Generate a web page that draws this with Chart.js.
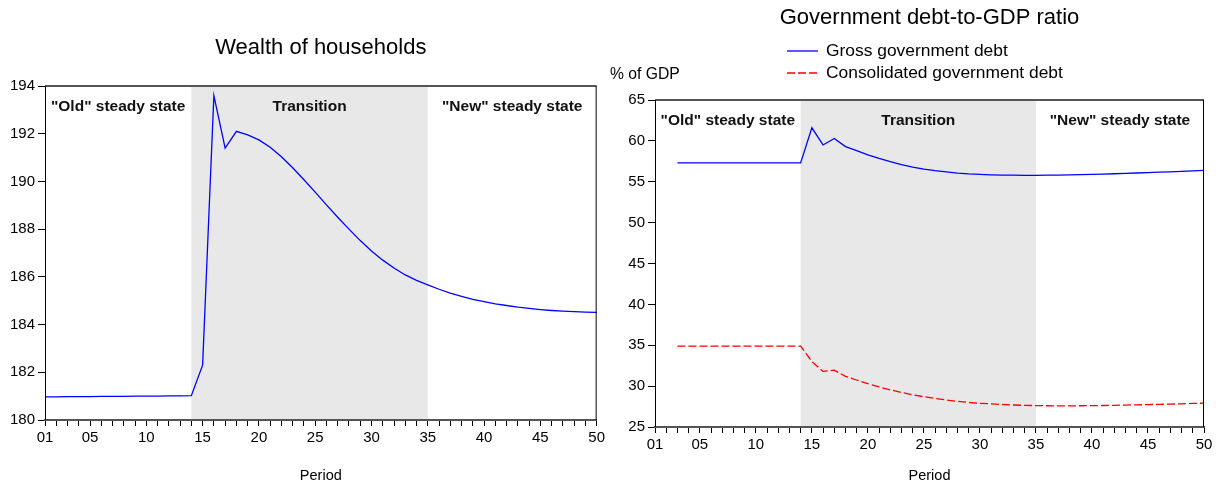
<!DOCTYPE html>
<html>
<head>
<meta charset="utf-8">
<script src="https://cdn.jsdelivr.net/npm/chart.js@4.4.0/dist/chart.umd.min.js"></script>
<style>
    html, body { margin: 0; padding: 0; background: #fff; }
    #wrap { position: relative; width: 1216px; height: 485px; }
    .box { position: absolute; top: 0; width: 608px; height: 485px; }
</style>
</head>
<body>
<div id="wrap">
    <div class="box" style="left:0"><canvas id="wealthChart"></canvas></div>
    <div class="box" style="left:608px"><canvas id="debtChart"></canvas></div>
</div>
<script>
// ============================================
// Data
// ============================================
const periods = [
    "01", "02", "03", "04", "05", "06", "07", "08", "09", "10",
    "11", "12", "13", "14", "15", "16", "17", "18", "19", "20",
    "21", "22", "23", "24", "25", "26", "27", "28", "29", "30",
    "31", "32", "33", "34", "35", "36", "37", "38", "39", "40",
    "41", "42", "43", "44", "45", "46", "47", "48", "49", "50",
];
const shownTicks = ["01", "05", "10", "15", "20", "25", "30", "35", "40", "45", "50"];

// shaded transition window (period labels) and the three region names
const regionBounds = ["14", "35"];
const regionNames = ['"Old" steady state', "Transition", '"New" steady state'];

const wealth = [
    180.97, 180.97, 180.98, 180.98, 180.98, 180.99, 180.99, 180.99, 181.0, 181.0,
    181.0, 181.01, 181.01, 181.02, 182.3, 193.6, 191.4, 192.1, 191.95, 191.74,
    191.43, 191.03, 190.57, 190.07, 189.55, 189.02, 188.5, 188.0, 187.52, 187.08,
    186.7, 186.37, 186.08, 185.85, 185.66, 185.48, 185.32, 185.18, 185.06, 184.96,
    184.87, 184.8, 184.73, 184.68, 184.63, 184.59, 184.56, 184.54, 184.52, 184.51,
];

const grossDebt = [
    null, null, 57.3, 57.3, 57.3, 57.3, 57.3, 57.3, 57.3, 57.3,
    57.3, 57.3, 57.3, 57.3, 61.6, 59.5, 60.3, 59.3, 58.8, 58.3,
    57.85, 57.45, 57.1, 56.8, 56.55, 56.35, 56.2, 56.06, 55.96, 55.9,
    55.85, 55.82, 55.8, 55.79, 55.79, 55.8, 55.82, 55.84, 55.87, 55.9,
    55.94, 55.98, 56.02, 56.07, 56.12, 56.17, 56.22, 56.27, 56.33, 56.39,
];

const consolidatedDebt = [
    null, null, 34.9, 34.9, 34.9, 34.9, 34.9, 34.9, 34.9, 34.9,
    34.9, 34.9, 34.9, 34.9, 33.0, 31.8, 31.95, 31.2, 30.75, 30.3,
    29.9, 29.55, 29.22, 28.94, 28.7, 28.5, 28.3, 28.13, 28.0, 27.9,
    27.83, 27.75, 27.69, 27.65, 27.62, 27.6, 27.59, 27.59, 27.6, 27.61,
    27.63, 27.65, 27.68, 27.71, 27.74, 27.77, 27.8, 27.84, 27.88, 27.92,
];

// ============================================
// Shared styling
// ============================================
const FONT = "'Liberation Sans', Arial, sans-serif";
Chart.defaults.font.family = FONT;
Chart.defaults.color = "#000";

// shading + region labels below the lines, frame on top
const regionPlugin = {
    id: "regions",
    beforeDatasetsDraw(chart) {
        const { ctx, chartArea: a, scales: { x } } = chart;
        const x0 = x.getPixelForValue(periods.indexOf(regionBounds[0]));
        const x1 = x.getPixelForValue(periods.indexOf(regionBounds[1]));
        ctx.save();
        ctx.fillStyle = "#e8e8e8";
        ctx.fillRect(x0, a.top, x1 - x0, a.bottom - a.top);

        ctx.fillStyle = "#111";
        ctx.font = "bold 15.5px " + FONT;
        ctx.textAlign = "center";
        ctx.textBaseline = "middle";
        const centers = [(a.left + x0) / 2, (x0 + x1) / 2, (x1 + a.right) / 2];
        regionNames.forEach((name, i) => ctx.fillText(name, centers[i], a.top + 21));
        ctx.restore();
    },
    afterDraw(chart) {
        const { ctx, chartArea: a } = chart;
        ctx.save();
        // top and bottom lines are greyish and heavier, sides black
        ctx.strokeStyle = "#555";
        ctx.lineWidth = 2;
        ctx.beginPath();
        ctx.moveTo(a.left, a.top);
        ctx.lineTo(a.right, a.top);
        ctx.moveTo(a.left, a.bottom);
        ctx.lineTo(a.right, a.bottom);
        ctx.stroke();
        ctx.strokeStyle = "#000";
        ctx.lineWidth = 1;
        ctx.beginPath();
        ctx.moveTo(a.left + 0.5, a.top);
        ctx.lineTo(a.left + 0.5, a.bottom);
        ctx.moveTo(a.right - 0.5, a.top);
        ctx.lineTo(a.right - 0.5, a.bottom);
        ctx.stroke();
        ctx.restore();
    },
};

function xAxis(height) {
    return {
        type: "category",
        offset: false,
        grid: { drawOnChartArea: false, drawTicks: true, tickLength: 6, color: "#000" },
        border: { display: true, color: "#555", width: 2 },
        ticks: {
            autoSkip: false,
            maxRotation: 0,
            padding: 3,
            font: { size: 15 },
            callback: function (value) {
                const lbl = this.getLabelForValue(value);
                return shownTicks.includes(lbl) ? lbl : "";
            },
        },
        title: { display: true, text: "Period", font: { size: 14.5 }, padding: { top: 0, bottom: 0 } },
        afterFit: (scale) => { scale.height = height; },
    };
}

function yAxis(min, max, step, width) {
    return {
        min: min,
        max: max,
        grid: { drawOnChartArea: false, drawTicks: true, tickLength: 7, color: "#000" },
        border: { display: true, color: "#000", width: 1 },
        ticks: { stepSize: step, padding: 3, font: { size: 15 } },
        afterFit: (scale) => { scale.width = width; },
    };
}

// ============================================
// Left: Wealth of households
// ============================================
new Chart(document.getElementById("wealthChart"), {
    type: "line",
    data: {
        labels: periods,
        datasets: [
            {
                label: "Wealth of households",
                data: wealth,
                borderColor: "#0000ff",
                borderWidth: 1.3,
                pointRadius: 0,
                tension: 0,
            },
        ],
    },
    options: {
        responsive: true,
        maintainAspectRatio: false,
        animation: false,
        layout: { padding: { left: 0, right: 9, top: 0, bottom: 0 } },
        plugins: {
            legend: { display: false },
            tooltip: { enabled: false },
            title: {
                display: true,
                text: "Wealth of households",
                fullSize: false,
                color: "#000",
                font: { size: 22, weight: "normal" },
                padding: { top: 35, bottom: 24.6 },
            },
        },
        scales: { x: xAxis(65), y: yAxis(180, 194, 2, 45) },
    },
    plugins: [regionPlugin],
});

// ============================================
// Right: Government debt-to-GDP ratio
// ============================================
const debtLegendPlugin = {
    id: "debtLegend",
    afterDraw(chart) {
        const { ctx, chartArea: a } = chart;
        ctx.save();
        // unit label above the y axis
        ctx.fillStyle = "#000";
        ctx.font = "15.7px " + FONT;
        ctx.textAlign = "left";
        ctx.textBaseline = "middle";
        ctx.fillText("% of GDP", 2, a.top - 25);

        ctx.font = "17.4px " + FONT;
        chart.data.datasets.forEach((ds, i) => {
            const y = a.top - 49 + i * 22;
            ctx.strokeStyle = ds.borderColor;
            ctx.lineWidth = 1.3;
            ctx.setLineDash(ds.borderDash || []);
            ctx.beginPath();
            ctx.moveTo(a.left + 132, y);
            ctx.lineTo(a.left + 163, y);
            ctx.stroke();
            ctx.setLineDash([]);
            ctx.fillText(ds.label, a.left + 171, y);
        });
        ctx.restore();
    },
};

new Chart(document.getElementById("debtChart"), {
    type: "line",
    data: {
        labels: periods,
        datasets: [
            {
                label: "Gross government debt",
                data: grossDebt,
                borderColor: "#0000ff",
                borderWidth: 1.3,
                pointRadius: 0,
                tension: 0,
            },
            {
                label: "Consolidated government debt",
                data: consolidatedDebt,
                borderColor: "#ff0000",
                borderDash: [8, 3],
                borderWidth: 1.3,
                pointRadius: 0,
                tension: 0,
            },
        ],
    },
    options: {
        responsive: true,
        maintainAspectRatio: false,
        animation: false,
        layout: { padding: { left: 0, right: 12, top: 0, bottom: 0 } },
        plugins: {
            legend: { display: false },
            tooltip: { enabled: false },
            title: {
                display: true,
                text: "Government debt-to-GDP ratio",
                fullSize: false,
                color: "#000",
                font: { size: 22, weight: "normal" },
                padding: { top: 5, bottom: 68.6 },
            },
        },
        scales: { x: xAxis(58), y: yAxis(25, 65, 5, 47) },
    },
    plugins: [regionPlugin, debtLegendPlugin],
});
</script>
</body>
</html>
